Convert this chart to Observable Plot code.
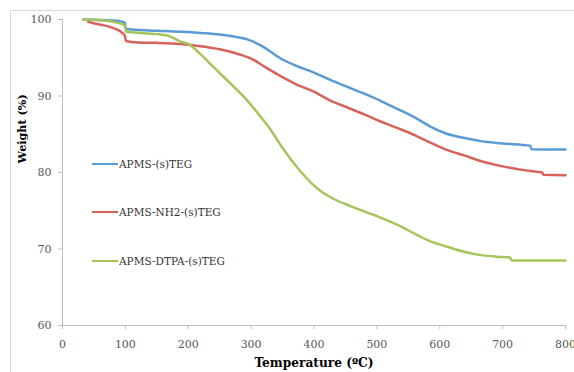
<!DOCTYPE html>
<html>
<head>
<meta charset="utf-8">
<script src="https://cdn.jsdelivr.net/npm/d3@7"></script>
<script src="https://cdn.jsdelivr.net/npm/@observablehq/plot@0.6"></script>
<style>
  html, body { margin: 0; padding: 0; background: #fff; overflow: hidden; }
  #wrap { position: relative; width: 574px; height: 372px; overflow: hidden; }
  #border { position: absolute; left: 10px; top: 10px; width: 700px; height: 500px; border: 1px solid #d9d9d9; box-sizing: border-box; pointer-events: none; }
  #legend { position: absolute; left: 92px; top: 0; font-family: "DejaVu Serif", serif; font-size: 10.5px; color: #333; }
  .item { position: absolute; left: 0; display: flex; align-items: center; white-space: nowrap; }
  .sw { width: 26px; height: 2.5px; margin-right: 1px; }
</style>
</head>
<body>
<div id="wrap"><div id="border"></div><div id="chart"></div><div id="legend"></div></div>
<script>
const seriesNames = ["APMS-(s)TEG", "APMS-NH2-(s)TEG", "APMS-DTPA-(s)TEG"];
const seriesColors = ["#5b9bd5", "#d6645a", "#a5c45a"];
const xTicks = [0, 100, 200, 300, 400, 500, 600, 700, 800];
const yTicks = [60, 70, 80, 90, 100];

const tempA = [33, 60, 90, 99, 101, 130, 160, 190, 220, 250, 270, 294, 320, 347, 370, 399, 426, 453, 480, 505, 530, 560, 585, 610, 640, 665, 700, 744, 746, 800];
const weightA = [100, 99.95, 99.8, 99.6, 98.75, 98.6, 98.5, 98.4, 98.25, 98.05, 97.8, 97.4, 96.4, 94.9, 94.0, 93.1, 92.1, 91.2, 90.3, 89.4, 88.4, 87.2, 86.0, 85.1, 84.5, 84.1, 83.8, 83.5, 83.05, 83.0];

const tempB = [41, 55, 68, 80, 89, 96, 99, 101, 120, 150, 188, 220, 250, 283, 300, 320, 347, 370, 399, 426, 453, 480, 505, 530, 560, 585, 610, 640, 665, 700, 744, 763, 765, 800];
const weightB = [99.7, 99.4, 99.2, 98.9, 98.6, 98.2, 97.9, 97.2, 97.0, 96.95, 96.8, 96.5, 96.1, 95.4, 94.9, 93.9, 92.6, 91.6, 90.6, 89.4, 88.5, 87.6, 86.7, 85.9, 84.9, 83.9, 83.0, 82.2, 81.5, 80.8, 80.2, 80.0, 79.7, 79.65];

const tempC = [33, 60, 80, 95, 99, 101, 130, 167, 188, 200, 219, 240, 265, 294, 315, 331, 350, 378, 410, 430, 458, 500, 537, 560, 585, 608, 640, 665, 690, 712, 714, 800];
const weightC = [100, 99.9, 99.7, 99.4, 99.2, 98.4, 98.2, 97.9, 97.1, 96.8, 95.5, 93.8, 91.8, 89.4, 87.3, 85.6, 83.2, 80.2, 77.6, 76.6, 75.6, 74.3, 73.0, 72.0, 71.0, 70.4, 69.6, 69.2, 69.0, 68.9, 68.5, 68.5];

const temps = [tempA, tempB, tempC];
const weights = [weightA, weightB, weightC];
const data = seriesNames.flatMap((name, i) => temps[i].map((t, j) => ({series: name, t, w: weights[i][j]})));

const font = "DejaVu Serif, serif";
const chart = Plot.plot({
  width: 574,
  height: 372,
  marginLeft: 62,
  marginRight: 9,
  marginTop: 19,
  marginBottom: 47,
  style: {fontFamily: font, background: "transparent", overflow: "visible"},
  x: {domain: [0, 800]},
  y: {domain: [60, 100]},
  color: {domain: seriesNames, range: seriesColors},
  marks: [
    Plot.ruleX([0], {stroke: "#bfbfbf", strokeWidth: 1}),
    Plot.ruleY([60], {stroke: "#bfbfbf", strokeWidth: 1}),
    Plot.axisX({ticks: xTicks, tickSize: 4, tickPadding: 11, stroke: "#bfbfbf", fill: "#595959", fontSize: 11, fontFamily: font, label: null}),
    Plot.axisY({ticks: yTicks, tickSize: 4, tickPadding: 7, stroke: "#bfbfbf", fill: "#595959", fontSize: 11, fontFamily: font, label: null}),
    Plot.line(data, {x: "t", y: "w", stroke: "series", strokeWidth: 2.5, curve: "monotone-x"}),
    Plot.text(["Temperature (ºC)"], {frameAnchor: "bottom", dy: 41, fontWeight: "bold", fontSize: 12.2, fill: "#000", fontFamily: font}),
    Plot.text(["Weight (%)"], {frameAnchor: "left", dx: -40, dy: -9, rotate: -90, fontWeight: "bold", fontSize: 11.2, fill: "#000", fontFamily: font})
  ]
});
document.getElementById("chart").appendChild(chart);

const legendTops = [164, 212, 261];
const legend = document.getElementById("legend");
seriesNames.forEach((name, i) => {
  const item = document.createElement("div");
  item.className = "item";
  item.style.top = (legendTops[i] - 7) + "px";
  item.style.height = "14px";
  const sw = document.createElement("span");
  sw.className = "sw";
  sw.style.background = seriesColors[i];
  const tx = document.createElement("span");
  tx.textContent = name;
  item.appendChild(sw);
  item.appendChild(tx);
  legend.appendChild(item);
});
</script>
</body>
</html>
